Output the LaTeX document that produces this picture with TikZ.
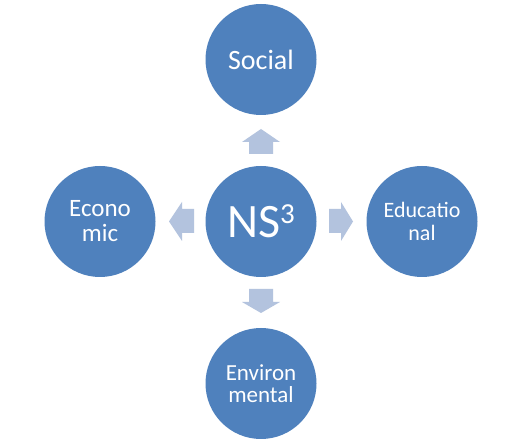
\documentclass[tikz,border=0pt]{standalone}
\usepackage{fontspec}
\setmainfont{Carlito}
\definecolor{circblue}{HTML}{4F81BD}
\definecolor{arrblue}{HTML}{B3C3DE}
\begin{document}
\begin{tikzpicture}[x=1pt,y=-1pt,
  circ/.style={circle,fill=circblue,minimum size=111pt,inner sep=0pt,text=white,align=center},
  arr/.style={fill=arrblue,draw=none}]
\useasboundingbox[fill=white] (0,0) rectangle (525,443);
\node[circ,font=\fontsize{48}{48}\selectfont] (c) at (261,221.5) {NS\raisebox{14pt}{\fontsize{29}{29}\selectfont 3}};
\node[circ,font=\fontsize{28}{28}\selectfont] (s) at (261,59.5) {Social};
\node[circ,font=\fontsize{25}{25}\selectfont] (e) at (100,221.5) {Econo\\mic};
\node[circ,font=\fontsize{22}{23}\selectfont] (d) at (422,221.5) {Educatio\\nal};
\node[circ,font=\fontsize{23}{22}\selectfont] (v) at (261,383.5) {Environ\\mental};
% arrows
\path[arr] (249,154) -- (249,142) -- (242,142) -- (261,129) -- (280,142) -- (273,142) -- (273,154) -- cycle;
\path[arr] (249,289) -- (249,302) -- (242,302) -- (261,313) -- (280,302) -- (273,302) -- (273,289) -- cycle;
\path[arr] (194,209) -- (182,209) -- (182,202) -- (169,221.5) -- (182,241) -- (182,233) -- (194,233) -- cycle;
\path[arr] (329,209) -- (341,209) -- (341,202) -- (353,221.5) -- (341,241) -- (341,233) -- (329,233) -- cycle;
\end{tikzpicture}
\end{document}
